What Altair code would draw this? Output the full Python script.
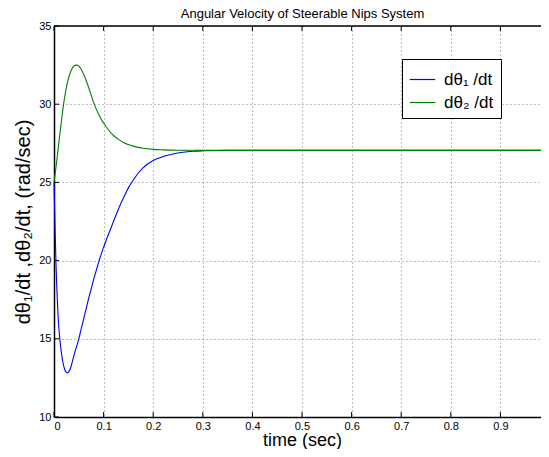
import altair as alt
import pandas as pd

# time (s) and values
t1 = [0.0, 0.002, 0.004, 0.006, 0.008, 0.010, 0.012, 0.015, 0.018, 0.021, 0.024, 0.027,
      0.030, 0.034, 0.038, 0.042, 0.046, 0.050, 0.055, 0.060, 0.065, 0.070, 0.075, 0.080,
      0.085, 0.090, 0.095, 0.100, 0.110, 0.120, 0.130, 0.140, 0.150, 0.160, 0.170, 0.180,
      0.200, 0.220, 0.240, 0.260, 0.280, 0.300, 0.350, 0.400, 0.500, 0.600, 0.700, 0.800,
      0.900, 1.000]
w1 = [25.0, 22.3, 19.8, 18.0, 16.6, 15.6, 14.9, 14.1, 13.5, 13.1, 12.88, 12.83,
      12.9, 13.2, 13.65, 14.15, 14.55, 15.0, 15.65, 16.3, 16.95, 17.6, 18.2, 18.8,
      19.35, 19.9, 20.4, 20.85, 21.7, 22.5, 23.3, 24.0, 24.65, 25.15, 25.6, 25.95,
      26.4, 26.65, 26.82, 26.93, 26.99, 27.02, 27.05, 27.05, 27.05, 27.05, 27.05, 27.05,
      27.05, 27.05]

t2 = [0.0, 0.004, 0.008, 0.012, 0.016, 0.020, 0.024, 0.028, 0.032, 0.036, 0.040, 0.0445,
      0.050, 0.055, 0.060, 0.065, 0.070, 0.075, 0.080, 0.085, 0.090, 0.095, 0.100, 0.110,
      0.120, 0.130, 0.140, 0.150, 0.160, 0.170, 0.180, 0.200, 0.220, 0.250, 0.300, 0.400,
      0.500, 0.600, 0.700, 0.800, 0.900, 1.000]
w2 = [25.0, 25.95, 27.05, 28.15, 29.2, 30.15, 30.9, 31.5, 31.95, 32.25, 32.43, 32.5,
      32.44, 32.22, 31.9, 31.5, 31.05, 30.57, 30.1, 29.7, 29.35, 29.05, 28.8, 28.35,
      28.0, 27.75, 27.55, 27.42, 27.32, 27.24, 27.18, 27.11, 27.08, 27.06, 27.05, 27.05,
      27.05, 27.05, 27.05, 27.05, 27.05, 27.05]

series_names = ["dθ₁ /dt", "dθ₂ /dt"]
series_colors = ["#0000FF", "#008000"]
x_ticks = [0, 0.1, 0.2, 0.3, 0.4, 0.5, 0.6, 0.7, 0.8, 0.9, 1.0]
y_ticks = [10, 15, 20, 25, 30, 35]
x_domain = [0, 1]
y_domain = [10, 35]

df = pd.concat([
    pd.DataFrame({"t": t1, "w": w1, "s": series_names[0], "o": range(len(t1))}),
    pd.DataFrame({"t": t2, "w": w2, "s": series_names[1], "o": range(len(t2))}),
])

W, H = 487, 391
XR = 496  # full axis length; the right end falls just outside the window as in the reference
FONT = "Liberation Sans"

xscale = alt.Scale(domain=x_domain, nice=False, range=[0, XR])
yscale = alt.Scale(domain=y_domain, nice=False)

lines = alt.Chart(df).mark_line(strokeWidth=1.1, interpolate="monotone").encode(
    x=alt.X("t:Q", scale=xscale,
            axis=alt.Axis(title="time (sec)", values=x_ticks, format="~g",
                          grid=True, ticks=False, labelPadding=3,
                          titleFontSize=18, titleBaseline="alphabetic",
                          titleY=28, titleX=248)),
    y=alt.Y("w:Q", scale=yscale,
            axis=alt.Axis(title="dθ₁/dt ,dθ₂/dt, (rad/sec)", values=y_ticks,
                          grid=True, ticks=False, labelPadding=3,
                          titleFontSize=20, titlePadding=5)),
    color=alt.Color("s:N", scale=alt.Scale(domain=series_names, range=series_colors),
                    legend=alt.Legend(title=None, orient="none", legendX=348, legendY=33,
                                      symbolType="stroke", symbolSize=650,
                                      symbolStrokeWidth=1.2, labelFontSize=17,
                                      labelFont=FONT, fillColor="white",
                                      strokeColor="black", padding=7, rowPadding=1,
                                      labelOffset=8, offset=0)),
    order="o:Q",
)

xt = pd.DataFrame({"t": x_ticks})
yt = pd.DataFrame({"w": y_ticks})
frame = pd.DataFrame({"t": x_domain, "w": [y_domain[1], y_domain[1]]})

xtick_bot = alt.Chart(xt).mark_rule(color="black", strokeWidth=1).encode(
    x=alt.X("t:Q", scale=xscale), y=alt.value(H), y2=alt.value(H - 5))
xtick_top = alt.Chart(xt).mark_rule(color="black", strokeWidth=1).encode(
    x=alt.X("t:Q", scale=xscale), y=alt.value(0), y2=alt.value(5))
ytick = alt.Chart(yt).mark_rule(color="black", strokeWidth=1).encode(
    y=alt.Y("w:Q", scale=yscale), x=alt.value(0), x2=alt.value(5))
top_line = alt.Chart(frame).mark_line(color="black", strokeWidth=1.5).encode(
    x=alt.X("t:Q", scale=xscale), y=alt.Y("w:Q", scale=yscale))

chart = alt.layer(lines, xtick_bot, xtick_top, ytick, top_line).properties(
    width=W, height=H,
    title=alt.TitleParams("Angular Velocity of Steerable Nips System", fontSize=13,
                          font=FONT, fontWeight="normal", anchor="middle", dx=5,
                          offset=0, dy=1),
    autosize=alt.AutoSizeParams(type="none"),
    padding={"left": 46, "top": 18, "right": 0, "bottom": 32},
).configure_axis(
    labelFont=FONT, titleFont=FONT, labelFontSize=11, labelColor="black",
    titleColor="black", titleFontWeight="normal", domainColor="black", domainWidth=1.5,
    gridColor="#333333", gridDash=[1, 3], gridWidth=0.8, gridOpacity=0.8,
).configure_view(
    stroke=None
)

chart.save("out.html", embed_options={"renderer": "svg", "actions": False})
